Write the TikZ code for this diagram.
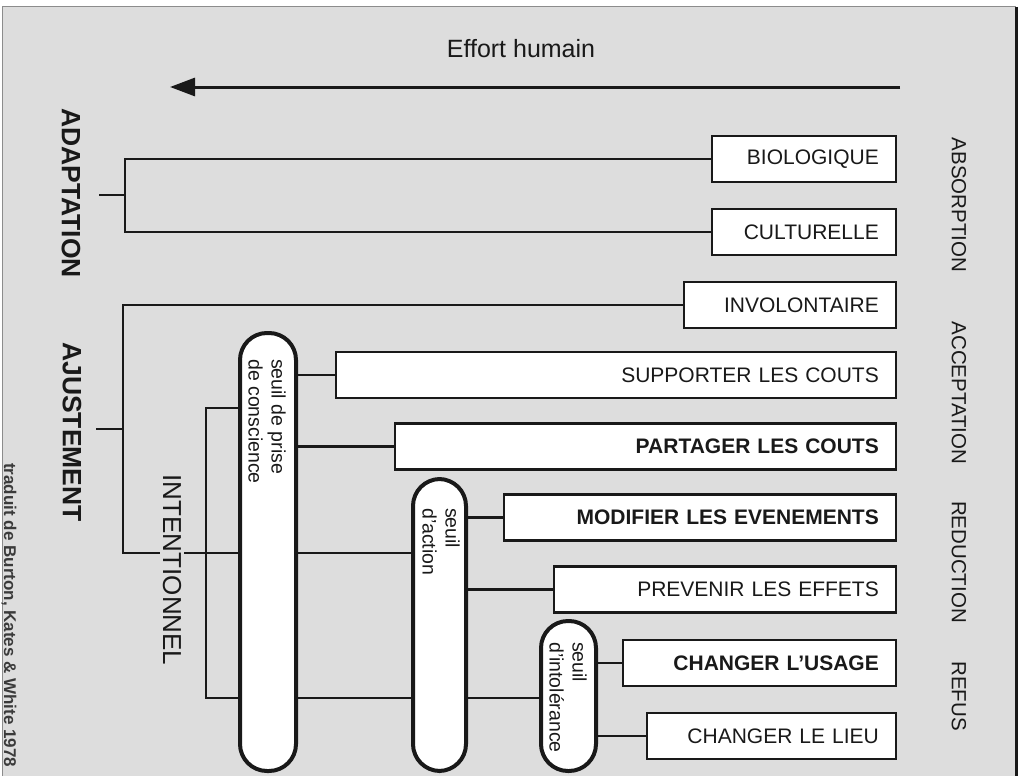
\documentclass[tikz,border=0pt]{standalone}
\usepackage{fontspec}
\setmainfont{Liberation Sans}
\usetikzlibrary{arrows.meta}
\definecolor{bg}{RGB}{221,221,221}
\definecolor{ink}{RGB}{25,25,25}
\begin{document}
\begin{tikzpicture}[x=1pt,y=-1pt,
  conn/.style={draw=ink,line width=2.4pt},
  box/.style={draw=ink,line width=2.4pt,fill=white,anchor=east,minimum height=46pt,
     inner xsep=17pt,align=right,font=\fontsize{21}{24}\selectfont,text=ink},
  pill/.style={draw=ink,line width=4pt,fill=white,rounded corners=27pt,inner sep=0pt},
  vlab/.style={rotate=-90,text=ink,inner sep=1pt},
  side/.style={vlab,font=\fontsize{20.5}{24}\selectfont},
  big/.style={vlab,font=\bfseries\fontsize{26.5}{30}\selectfont},
  seuil/.style={vlab,anchor=west,align=left,font=\fontsize{19.5}{23}\selectfont}
]
\useasboundingbox (0,0) rectangle (1019,776);
% background sheet
\fill[white] (0,0) rectangle (1019,776);
\fill[bg] (2,7) rectangle (1016,776);
\draw[black!45,line width=1pt] (2,776) -- (2,7) -- (1016,7);
\draw[ink,line width=3pt] (1016,7) -- (1016,776);

% title and arrow
\node[font=\fontsize{25}{28}\selectfont,text=ink] (title) at (521,49) {Effort humain};
\coordinate (arR) at (900,87);
\coordinate (arL) at (170,87);
\draw[ink,line width=3pt,-{Triangle[length=25pt,width=18pt]}] (arR) -- (arL);

% boxes
\node[box,minimum width=184pt,text width=150pt] (BIO) at (897,159) {BIOLOGIQUE};
\node[box,minimum width=184pt,text width=150pt] (CULT) at (897,232) {CULTURELLE};
\node[box,minimum width=212pt,text width=178pt] (INV) at (897,305) {INVOLONTAIRE};
\node[box,minimum width=560pt,text width=526pt] (SUPP) at (897,375) {SUPPORTER LES COUTS};
\node[box,minimum width=501pt,text width=467pt] (PART) at (897,446.5) {\bfseries PARTAGER LES COUTS};
\node[box,minimum width=392pt,text width=358pt] (MOD) at (897,517.5) {\bfseries MODIFIER LES EVENEMENTS};
\node[box,minimum width=342pt,text width=308pt] (PREV) at (897,589.5) {PREVENIR LES EFFETS};
\node[box,minimum width=273pt,text width=239pt] (USAGE) at (897,663) {\bfseries CHANGER L'USAGE};
\node[box,minimum width=249pt,text width=215pt] (LIEU) at (897,736) {CHANGER LE LIEU};

% pills
\node[pill,minimum width=56pt,minimum height=438pt] (P1) at (268,552) {};
\node[pill,minimum width=53pt,minimum height=292pt] (P2) at (439.5,625) {};
\node[pill,minimum width=55pt,minimum height=150pt] (P3) at (568.5,696) {};

\node[seuil] (S1) at (267,358) {seuil de prise\\de conscience};
\node[seuil] (S2) at (441,507) {seuil\\d'action};
\node[seuil] (S3) at (568,641) {seuil\\d'intolérance};

% bracket coordinates
\coordinate (adx) at (125,0);
\coordinate (adtick) at (99,195);
\coordinate (ajx) at (123,0);
\coordinate (ajtick) at (96,429);
\coordinate (ajmid) at (0,553);
\coordinate (intop) at (206,408);
\coordinate (inbot) at (206,698);

% connectors
\draw[conn] (BIO.west) -- (BIO.west -| adx) |- (CULT.west);
\draw[conn] (adtick) -- (adtick -| adx);
\draw[conn] (INV.west) -- (INV.west -| ajx) |- (P1.west |- ajmid);
\draw[conn] (ajtick) -- (ajtick -| ajx);
\draw[conn] (P1.east |- ajmid) -- (P2.west |- ajmid);
\draw[conn] (P1.west |- intop) -- (intop) -- (inbot) -- (P1.west |- inbot);
\draw[conn] (P1.east |- inbot) -- (P2.west |- inbot);
\draw[conn] (P2.east |- inbot) -- (P3.west |- inbot);
\draw[conn] (P1.east |- SUPP.west) -- (SUPP.west);
\draw[conn] (P1.east |- PART.west) -- (PART.west);
\draw[conn] (P2.east |- MOD.west) -- (MOD.west);
\draw[conn] (P2.east |- PREV.west) -- (PREV.west);
\draw[conn] (P3.east |- USAGE.west) -- (USAGE.west);
\draw[conn] (P3.east |- LIEU.west) -- (LIEU.west);

% left labels
\node[big] (ADAP) at (71,193) {ADAPTATION};
\node[big] (AJUS) at (72,432) {AJUSTEMENT};
\node[vlab,fill=bg,inner sep=3pt,font=\fontsize{26}{30}\selectfont] (INTEN) at (172,570) {INTENTIONNEL};

% right labels
\node[side] (ABS) at (959,205) {ABSORPTION};
\node[side] (ACC) at (959,393) {ACCEPTATION};
\node[side] (RED) at (959,562) {REDUCTION};
\node[side] (REF) at (959,696) {REFUS};

% credit
\node[vlab,anchor=west,font=\bfseries\fontsize{17}{20}\selectfont,text=ink!85] (cred) at (9,462) {traduit de Burton, Kates \& White 1978};
\end{tikzpicture}
\end{document}
